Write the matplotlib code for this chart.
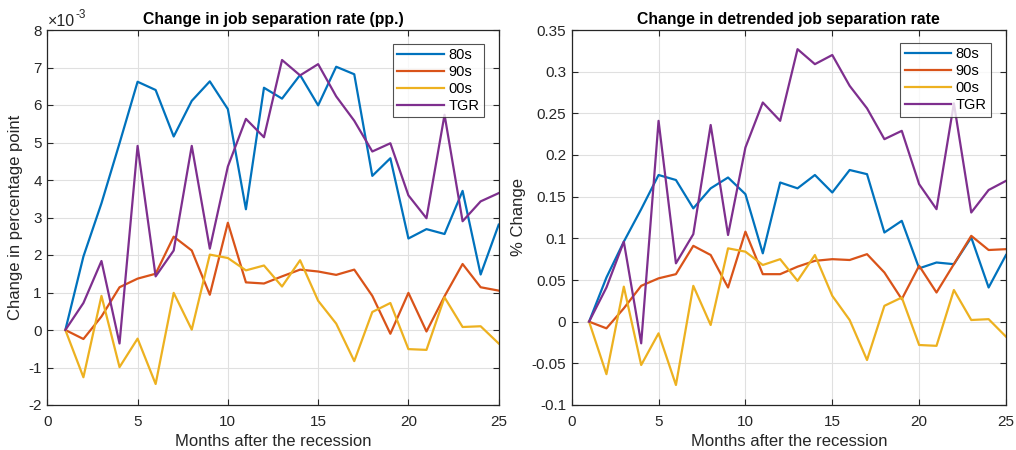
import numpy as np
import matplotlib
matplotlib.use("Agg")
import matplotlib.pyplot as plt
from matplotlib.ticker import FuncFormatter

months = list(range(1, 26))
series_names = ["80s", "90s", "00s", "TGR"]

# Left panel: change in job separation rate (pp.), in units of 1e-3
sep_80s = [0, 1.96, 3.38, 4.98, 6.62, 6.40, 5.16, 6.11, 6.63, 5.89, 3.22, 6.46, 6.17,
           6.80, 5.99, 7.02, 6.82, 4.11, 4.58, 2.44, 2.69, 2.56, 3.71, 1.48, 2.81]
sep_90s = [0, -0.24, 0.36, 1.14, 1.37, 1.50, 2.49, 2.12, 0.94, 2.86, 1.27, 1.24, 1.43,
           1.61, 1.56, 1.47, 1.61, 0.91, -0.10, 0.99, -0.04, 0.90, 1.76, 1.14, 1.05]
sep_00s = [0, -1.26, 0.91, -0.99, -0.23, -1.44, 0.99, 0.01, 2.01, 1.92, 1.59, 1.72, 1.16,
           1.86, 0.78, 0.17, -0.83, 0.48, 0.72, -0.51, -0.53, 0.87, 0.08, 0.10, -0.36]
sep_tgr = [0, 0.72, 1.84, -0.36, 4.91, 1.43, 2.12, 4.91, 2.17, 4.36, 5.63, 5.14, 7.20,
           6.79, 7.09, 6.23, 5.58, 4.76, 4.98, 3.59, 2.98, 5.74, 2.90, 3.43, 3.65]

# Right panel: change in detrended job separation rate (% change)
det_80s = [0, 0.053, 0.096, 0.135, 0.176, 0.170, 0.136, 0.160, 0.173, 0.153, 0.082, 0.167, 0.160,
           0.176, 0.155, 0.182, 0.177, 0.107, 0.121, 0.064, 0.071, 0.069, 0.101, 0.041, 0.080]
det_90s = [0, -0.008, 0.016, 0.043, 0.052, 0.057, 0.091, 0.080, 0.041, 0.108, 0.057, 0.057, 0.066,
           0.073, 0.075, 0.074, 0.081, 0.059, 0.027, 0.067, 0.035, 0.069, 0.103, 0.086, 0.087]
det_00s = [0, -0.063, 0.042, -0.052, -0.014, -0.076, 0.043, -0.004, 0.088, 0.084, 0.068, 0.075, 0.049,
           0.080, 0.031, 0.002, -0.046, 0.019, 0.029, -0.028, -0.029, 0.038, 0.002, 0.003, -0.018]
det_tgr = [0, 0.041, 0.096, -0.026, 0.241, 0.070, 0.105, 0.236, 0.104, 0.209, 0.263, 0.241, 0.327,
           0.309, 0.320, 0.283, 0.256, 0.219, 0.229, 0.165, 0.135, 0.262, 0.131, 0.158, 0.169]

colors = [(0, 0.447, 0.741), (0.85, 0.325, 0.098), (0.929, 0.694, 0.125), (0.494, 0.184, 0.556)]

plt.rcParams['font.family'] = ['Liberation Sans', 'DejaVu Sans']
plt.rcParams['axes.unicode_minus'] = False
axcol = (0.15, 0.15, 0.15)

fig = plt.figure(figsize=(10.16, 4.5), dpi=100)
W, H = 1016, 450
ax1 = fig.add_axes([47.3 / W, 1 - 405 / H, (498.7 - 47.3) / W, (405 - 30) / H])
ax2 = fig.add_axes([571.7 / W, 1 - 405 / H, (1006 - 571.7) / W, (405 - 30) / H])


def style(ax):
    ax.set_xlim(0, 25)
    ax.set_xticks([0, 5, 10, 15, 20, 25])
    ax.grid(True, color=(0.88, 0.88, 0.88), linewidth=0.8)
    ax.set_axisbelow(True)
    ax.tick_params(direction='in', top=True, right=True, length=4, width=0.8,
                   colors=axcol, labelsize=11, labelcolor=axcol, pad=4)
    ax.tick_params(axis='x', pad=7)
    for s in ax.spines.values():
        s.set_color(axcol)
        s.set_linewidth(0.9)
    ax.set_xlabel("Months after the recession", fontsize=12, color=axcol, labelpad=4)


left = [sep_80s, sep_90s, sep_00s, sep_tgr]
for name, vals, c in zip(series_names, left, colors):
    ax1.plot(months, np.array(vals) * 1e-3, color=c, linewidth=1.6, label=name)
style(ax1)
ax1.set_ylim(-2e-3, 8e-3)
ax1.set_yticks(np.arange(-2, 9, 1) * 1e-3)
ax1.yaxis.set_major_formatter(FuncFormatter(lambda v, p: f"{round(v * 1e3):d}"))
ax1.annotate("\u00d710", xy=(0, 1), xycoords='axes fraction', xytext=(0.5, 3),
             textcoords='offset points', ha='left', va='baseline', fontsize=11.5, color=axcol)
ax1.annotate("-3", xy=(0, 1), xycoords='axes fraction', xytext=(20, 9),
             textcoords='offset points', ha='left', va='baseline', fontsize=8.5, color=axcol)
ax1.set_ylabel("Change in percentage point", fontsize=12, color=axcol, labelpad=4)
ax1.set_title("Change in job separation rate (pp.)", fontsize=11.3, fontweight='bold', pad=4)
leg1 = ax1.legend(loc='upper right', bbox_to_anchor=(0.967, 0.963), fontsize=10.5,
                  fancybox=False, edgecolor=axcol, handlelength=3.2, borderpad=0.3,
                  labelspacing=0.2, handletextpad=0.3, borderaxespad=0)
leg1.get_frame().set_linewidth(0.8)

right = [det_80s, det_90s, det_00s, det_tgr]
for name, vals, c in zip(series_names, right, colors):
    ax2.plot(months, vals, color=c, linewidth=1.6, label=name)
style(ax2)
ax2.set_ylim(-0.1, 0.35)
ax2.set_yticks(np.round(np.arange(-0.1, 0.351, 0.05), 2))
ax2.set_yticklabels(["-0.1", "-0.05", "0", "0.05", "0.1", "0.15", "0.2", "0.25", "0.3", "0.35"])
ax2.set_ylabel("% Change", fontsize=12, color=axcol, labelpad=4)
ax2.set_title("Change in detrended job separation rate", fontsize=11.3, fontweight='bold', pad=4)
leg2 = ax2.legend(loc='upper right', bbox_to_anchor=(0.966, 0.965), fontsize=10.5,
                  fancybox=False, edgecolor=axcol, handlelength=3.2, borderpad=0.3,
                  labelspacing=0.2, handletextpad=0.3, borderaxespad=0)
leg2.get_frame().set_linewidth(0.8)

fig.savefig("out.png", dpi=100)
